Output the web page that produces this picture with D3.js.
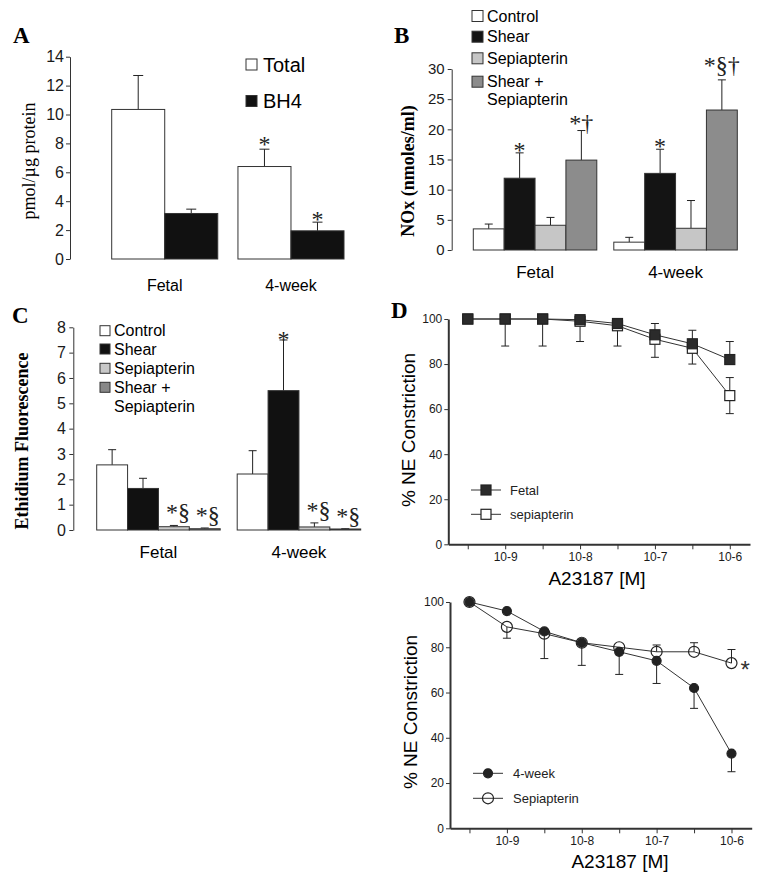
<!DOCTYPE html>
<html lang="en">
<head>
<meta charset="UTF-8">
<title>BH4, NOx, ethidium and A23187 responses</title>
<style>
  body { margin: 0; background: #fff; }
  svg { display: block; font-family: "Liberation Sans", Arial, sans-serif; }
  .serif { font-family: "Liberation Serif", "Times New Roman", serif; }
  .axis path, .axis line { stroke: #333; }
  .axis text { fill: #1a1a1a; font-family: "Liberation Sans", Arial, sans-serif; }
  .bar { stroke: #333; stroke-width: 1; }
  .err { stroke: #222; stroke-width: 1; fill: none; }
</style>
</head>
<body>
<script src="https://cdn.jsdelivr.net/npm/d3@7/dist/d3.min.js"></script>
<script>
const width = 765, height = 885;
const groups = ['Fetal', '4-week'];

// A - pterins (pmol/ug protein)
const totalA = [10.35, 6.4], totalErrA = [2.35, 1.2];
const bh4A = [3.15, 1.95], bh4ErrA = [0.3, 0.6];

// B - NOx (nmoles/ml)
const controlB = [3.5, 1.3], controlErrB = [0.8, 0.8];
const shearB = [11.9, 12.7], shearErrB = [4.2, 4.0];
const sepB = [4.1, 3.6], sepErrB = [1.3, 4.6];
const shearSepB = [14.9, 23.2], shearSepErrB = [4.9, 5.0];

// C - ethidium fluorescence
const controlC = [2.57, 2.21], controlErrC = [0.6, 0.92];
const shearC = [1.64, 5.5], shearErrC = [0.4, 2.0];
const sepC = [0.13, 0.12], sepErrC = [0.05, 0.16];
const shearSepC = [0.05, 0.04], shearSepErrC = [0.03, 0.01];

// D - log10 A23187 concentration and % NE constriction
const logConc = [-9.5, -9, -8.5, -8, -7.5, -7, -6.5, -6];
const xTickLabels = ['10-9', '10-8', '10-7', '10-6'];
const fetalD = [100, 100, 100, 99.7, 98, 93, 89, 82];
const fetalUpD = [0, 0, 0, 0, 0, 5, 6, 8];
const fetalDownD = [0, 0, 0, 0, 0, 0, 0, 0];
const fetalSepD = [100, 100, 100, 99, 97, 91, 87, 66];
const fetalSepUpD = [0, 0, 0, 0, 0, 0, 0, 8];
const fetalSepDownD = [0, 12, 12, 9, 9, 8, 7, 8];
const weekD = [100, 96, 87, 82, 78, 74, 62, 33];
const weekUpD = [0, 0, 0, 0, 0, 0, 0, 0];
const weekDownD = [0, 0, 12, 10, 10, 10, 9, 8];
const weekSepD = [100, 89, 86, 82, 80, 78, 78, 73];
const weekSepUpD = [0, 0, 0, 0, 0, 3, 4, 6];
const weekSepDownD = [0, 5, 0, 0, 0, 0, 0, 0];

const svg = d3.select('body').append('svg').attr('width', width).attr('height', height);
svg.append('rect').attr('width', width).attr('height', height).attr('fill', '#fff');

function letter(t, x, y) {
  svg.append('text').attr('class', 'serif').attr('x', x).attr('y', y)
    .style('font-size', '23px').style('font-weight', 'bold').text(t);
}

function barPanel(p) {
  const g = svg.append('g');
  const x0 = d3.scaleBand().domain(groups).range(p.xRange).paddingInner(p.pad);
  const x1 = d3.scaleBand().domain(p.series.map(s => s.name)).range([0, x0.bandwidth()]);
  const y = d3.scaleLinear().domain(p.yDomain).range(p.yRange);

  g.append('g').attr('class', 'axis').attr('transform', `translate(${p.axisX},0)`)
    .call(d3.axisLeft(y).ticks(p.ticks).tickSize(4).tickPadding(p.tickPad).tickSizeOuter(0))
    .call(a => a.selectAll('text').style('font-size', p.tickFont + 'px'))
    .call(a => a.selectAll('path,line').attr('stroke', p.axisColor));

  p.series.forEach(s => {
    const d = groups.map((gr, i) => ({ gr, v: s.values[i], e: s.err[i] }));
    const cx = r => x0(r.gr) + x1(s.name) + x1.bandwidth() / 2;
    g.selectAll(null).data(d).enter().append('line').attr('class', 'err')
      .attr('x1', cx).attr('x2', cx)
      .attr('y1', r => y(r.v)).attr('y2', r => y(r.v + r.e))
      .attr('stroke', p.errColor);
    g.selectAll(null).data(d).enter().append('line').attr('class', 'err')
      .attr('x1', r => cx(r) - p.cap / 2).attr('x2', r => cx(r) + p.cap / 2)
      .attr('y1', r => y(r.v + r.e)).attr('y2', r => y(r.v + r.e))
      .attr('stroke', p.errColor);
    g.selectAll(null).data(d).enter().append('rect').attr('class', 'bar')
      .attr('x', r => x0(r.gr) + x1(s.name))
      .attr('width', x1.bandwidth())
      .attr('y', r => y(r.v))
      .attr('height', r => y(0) - y(r.v))
      .attr('fill', s.fill);
  });

  // significance marks
  p.marks.forEach(m => {
    const s = p.series.find(t => t.name === m.series);
    const i = groups.indexOf(m.group);
    g.append('text').attr('class', 'serif')
      .attr('x', x0(m.group) + x1(m.series) + x1.bandwidth() / 2 + (m.dx || 0))
      .attr('y', y(s.values[i] + s.err[i]) - m.off)
      .attr('text-anchor', 'middle').style('font-size', '24px').attr('fill', '#222')
      .text(m.text);
  });

  // group labels
  g.selectAll(null).data(groups).enter().append('text')
    .attr('x', d => x0(d) + x0.bandwidth() / 2).attr('y', p.catY)
    .attr('text-anchor', 'middle').style('font-size', p.catFont + 'px').text(d => d);

  // y title
  g.append('text').attr('class', 'serif')
    .attr('transform', `translate(${p.titleX},${p.titleY}) rotate(-90)`)
    .attr('text-anchor', 'middle').style('font-size', '18px')
    .style('font-weight', p.titleBold ? 'bold' : 'normal').text(p.title);

  // legend
  p.series.forEach((s, i) => {
    const ly = p.legend.rows[i];
    g.append('rect').attr('x', p.legend.x).attr('y', ly - p.legend.box / 2)
      .attr('width', p.legend.box).attr('height', p.legend.box)
      .attr('fill', s.fill).attr('stroke', '#333').attr('stroke-width', 1);
    s.label.forEach((t, k) => {
      g.append('text').attr('x', p.legend.tx)
        .attr('y', ly + p.legend.font * 0.36 + k * p.legend.lineH)
        .style('font-size', p.legend.font + 'px').text(t);
    });
  });
}

letter('A', 13, 43);
barPanel({
  xRange: [111.7, 344], pad: 0.16, yDomain: [0, 14], yRange: [259, 56.7], ticks: 7,
  axisX: 70, tickPad: 2, tickFont: 16, axisColor: '#333', errColor: '#111', cap: 10,
  series: [
    { name: 'Total', label: ['Total'], values: totalA, err: totalErrA, fill: '#fff' },
    { name: 'BH4', label: ['BH4'], values: bh4A, err: bh4ErrA, fill: '#111' }
  ],
  marks: [
    { group: '4-week', series: 'Total', text: '*', off: -3 },
    { group: '4-week', series: 'BH4', text: '*', off: -5 }
  ],
  catY: 291, catFont: 16,
  title: 'pmol/\u00b5g protein', titleX: 35, titleY: 161, titleBold: false,
  legend: { x: 246, box: 11, rows: [64.5, 101], tx: 263, font: 20, lineH: 0 }
});

letter('B', 394, 43);
barPanel({
  xRange: [473.3, 737.3], pad: 0.121, yDomain: [0, 30], yRange: [250, 69], ticks: 6,
  axisX: 451.7, tickPad: 3, tickFont: 15, axisColor: '#555', errColor: '#444', cap: 8,
  series: [
    { name: 'Control', label: ['Control'], values: controlB, err: controlErrB, fill: '#fff' },
    { name: 'Shear', label: ['Shear'], values: shearB, err: shearErrB, fill: '#141414' },
    { name: 'Sepiapterin', label: ['Sepiapterin'], values: sepB, err: sepErrB, fill: '#c6c6c6' },
    { name: 'Shear + Sepiapterin', label: ['Shear +', 'Sepiapterin'], values: shearSepB, err: shearSepErrB, fill: '#8c8c8c' }
  ],
  marks: [
    { group: 'Fetal', series: 'Shear', text: '*', off: -5 },
    { group: 'Fetal', series: 'Shear + Sepiapterin', text: '*\u2020', off: 0 },
    { group: '4-week', series: 'Shear', text: '*', off: -5 },
    { group: '4-week', series: 'Shear + Sepiapterin', text: '*\u00a7\u2020', off: 7 }
  ],
  catY: 278, catFont: 17,
  title: 'NOx (nmoles/ml)', titleX: 414, titleY: 171, titleBold: true,
  legend: { x: 472, box: 11, rows: [16, 36.7, 58.3, 81.7], tx: 487, font: 16, lineH: 18 }
});

letter('C', 12, 323);
barPanel({
  xRange: [96.7, 360.7], pad: 0.121, yDomain: [0, 8], yRange: [530, 327.3], ticks: 8,
  axisX: 73.3, tickPad: 3.5, tickFont: 16, axisColor: '#333', errColor: '#222', cap: 8,
  series: [
    { name: 'Control', label: ['Control'], values: controlC, err: controlErrC, fill: '#fff' },
    { name: 'Shear', label: ['Shear'], values: shearC, err: shearErrC, fill: '#111' },
    { name: 'Sepiapterin', label: ['Sepiapterin'], values: sepC, err: sepErrC, fill: '#c8c8c8' },
    { name: 'Shear + Sepiapterin', label: ['Shear +', 'Sepiapterin'], values: shearSepC, err: shearSepErrC, fill: '#888' }
  ],
  marks: [
    { group: 'Fetal', series: 'Sepiapterin', text: '*\u00a7', off: 5, dx: 4 },
    { group: 'Fetal', series: 'Shear + Sepiapterin', text: '*\u00a7', off: 5, dx: 3 },
    { group: '4-week', series: 'Shear', text: '*', off: -7 },
    { group: '4-week', series: 'Sepiapterin', text: '*\u00a7', off: 5, dx: 4 },
    { group: '4-week', series: 'Shear + Sepiapterin', text: '*\u00a7', off: 5, dx: 3 }
  ],
  catY: 558, catFont: 17,
  title: 'Ethidium Fluorescence', titleX: 28, titleY: 441, titleBold: true,
  legend: { x: 100, box: 10, rows: [330.7, 349, 368.3, 387.3], tx: 114, font: 16, lineH: 18.7 }
});

// D - dose response panels
function linePanel(p) {
  const g = svg.append('g');
  const x = d3.scaleLinear().domain([-9.76, -5.73]).range(p.xRange);
  const y = d3.scaleLinear().domain([0, 100]).range(p.yRange);

  g.append('g').attr('class', 'axis').attr('transform', `translate(${p.xRange[0]},0)`)
    .call(d3.axisLeft(y).tickValues([0, 20, 40, 60, 80, 100]).tickSize(4).tickPadding(2).tickSizeOuter(0))
    .call(a => a.selectAll('text').style('font-size', '12px'))
    .call(a => a.select('.domain').attr('stroke-width', 2).attr('stroke', '#222'));
  g.append('g').attr('class', 'axis').attr('transform', `translate(0,${p.yRange[0]})`)
    .call(d3.axisBottom(x).tickValues(logConc).tickSize(5).tickSizeOuter(0)
      .tickFormat(v => Number.isInteger(v) ? xTickLabels[v + 9] : ''))
    .call(a => a.selectAll('text').style('font-size', '12px'))
    .call(a => a.select('.domain').attr('stroke-width', 2).attr('stroke', '#222'));

  g.append('text').attr('x', p.xTitle[0]).attr('y', p.xTitle[1])
    .attr('text-anchor', 'middle').style('font-size', '19px').text('A23187 [M]');
  g.append('text').attr('transform', `translate(${p.yTitle[0]},${p.yTitle[1]}) rotate(-90)`)
    .attr('text-anchor', 'middle').style('font-size', '19px').text('% NE Constriction');

  const line = d3.line().x(d => x(d.c)).y(d => y(d.v));
  p.series.forEach(s => {
    const d = logConc.map((c, i) => ({ c, v: s.values[i], up: s.up[i], down: s.down[i] }));
    g.append('path').datum(d).attr('d', line).attr('fill', 'none').attr('stroke', '#333').attr('stroke-width', 1);
    d.filter(r => r.up > 0 || r.down > 0).forEach(r => {
      const cx = x(r.c);
      const ends = [];
      if (r.up > 0) ends.push(r.v + r.up);
      if (r.down > 0) ends.push(r.v - r.down);
      g.append('line').attr('class', 'err').attr('x1', cx).attr('x2', cx)
        .attr('y1', y(r.v + r.up)).attr('y2', y(r.v - r.down));
      ends.forEach(e => g.append('line').attr('class', 'err')
        .attr('x1', cx - 4).attr('x2', cx + 4).attr('y1', y(e)).attr('y2', y(e)));
    });
  });
  // markers drawn after all lines
  p.series.slice().reverse().forEach(s => {
    const d = logConc.map((c, i) => ({ c, v: s.values[i] }));
    drawMarkers(g, s, d.map(r => [x(r.c), y(r.v)]));
  });

  // legend
  p.series.forEach((s, i) => {
    const ly = p.legend.rows[i];
    g.append('line').attr('x1', p.legend.x).attr('x2', p.legend.x + 30)
      .attr('y1', ly).attr('y2', ly).attr('stroke', '#333');
    drawMarkers(g, s, [[p.legend.x + 15, ly]]);
    g.append('text').attr('x', p.legend.tx).attr('y', ly + 4.5)
      .style('font-size', '13px').attr('fill', '#222').text(s.name);
  });

  if (p.mark) {
    const s = p.series[1];
    g.append('text').attr('x', x(logConc[7]) + 9).attr('y', y(s.values[7]) + 15)
      .style('font-size', '24px').attr('fill', '#333').text('*');
  }
  return g;
}

function drawMarkers(g, s, pts) {
  pts.forEach(([px, py]) => {
    if (s.shape === 'square') {
      g.append('rect').attr('x', px - 5).attr('y', py - 5).attr('width', 10).attr('height', 10)
        .attr('fill', s.filled ? '#2b2b2b' : '#fff').attr('stroke', '#222').attr('stroke-width', 1.2);
    } else {
      g.append('circle').attr('cx', px).attr('cy', py).attr('r', s.filled ? 4.5 : 5.5)
        .attr('fill', s.filled ? '#222' : 'none').attr('stroke', '#222').attr('stroke-width', 1.2);
    }
  });
}

letter('D', 391, 318);
linePanel({
  xRange: [448.3, 750], yRange: [544.3, 319],
  xTitle: [597, 585], yTitle: [415, 430],
  series: [
    { name: 'Fetal', values: fetalD, up: fetalUpD, down: fetalDownD, shape: 'square', filled: true },
    { name: 'sepiapterin', values: fetalSepD, up: fetalSepUpD, down: fetalSepDownD, shape: 'square', filled: false }
  ],
  legend: { x: 471, tx: 510, rows: [490, 514.3] },
  mark: false
});
linePanel({
  xRange: [450, 751.7], yRange: [828.3, 602],
  xTitle: [620, 868], yTitle: [417, 712],
  series: [
    { name: '4-week', values: weekD, up: weekUpD, down: weekDownD, shape: 'circle', filled: true },
    { name: 'Sepiapterin', values: weekSepD, up: weekSepUpD, down: weekSepDownD, shape: 'circle', filled: false }
  ],
  legend: { x: 473, tx: 513, rows: [773.3, 798.3] },
  mark: true
});
</script>
</body>
</html>
